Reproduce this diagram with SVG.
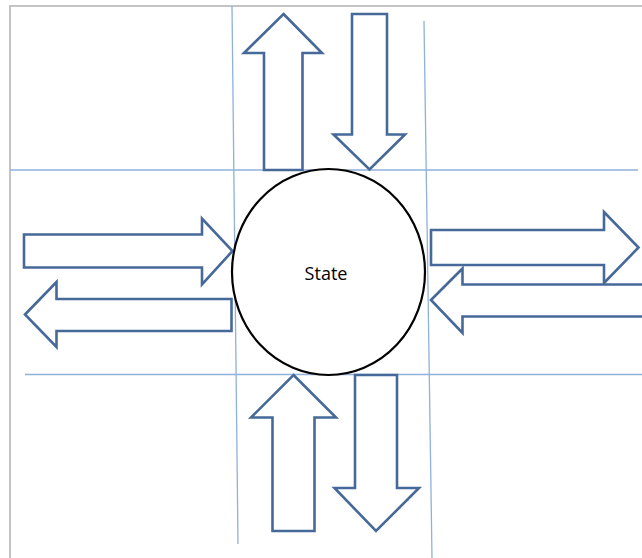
<svg xmlns="http://www.w3.org/2000/svg" width="642" height="558" viewBox="0 0 642 558">
<style>
.grid{stroke:#8fb1db;stroke-width:1.3;fill:none}
.border{stroke:#c4c4c4;stroke-width:2;fill:none}
.arrow{fill:#ffffff;stroke:#46699a;stroke-width:2.6;stroke-linejoin:miter}
.state{fill:#ffffff;stroke:#000000;stroke-width:2.2}
.label{font-family:"Open Sans","Liberation Sans",sans-serif;font-size:18px;fill:#000000}
</style>
<rect width="642" height="558" fill="#ffffff"/>
<g id="frame">
<polyline class="border" points="10,558 10,6 642,6"/>
</g>
<g id="grid">
<line class="grid" x1="232" y1="6" x2="238" y2="544"/>
<line class="grid" x1="424" y1="21" x2="432" y2="558"/>
<line class="grid" x1="10" y1="170" x2="638" y2="170"/>
<line class="grid" x1="25" y1="374.5" x2="642" y2="374.5"/>
</g>
<g id="connectors">
<polygon id="top-up" class="arrow" points="283.5,14 322,53 302.5,53 302.5,170 264,170 264,53 244,53"/>
<polygon id="top-down" class="arrow" points="352,14 387,14 387,134.5 405,134.5 369.5,169.5 333.5,134.5 352,134.5"/>
<polygon id="left-right" class="arrow" points="24,234.5 202,234.5 202,218.5 232.5,251 202,284.5 202,267.5 24,267.5"/>
<polygon id="left-left" class="arrow" points="25,314.5 56.5,282 56.5,299 231.5,299 231.5,331 56.5,331 56.5,347"/>
<polygon id="right-right" class="arrow" points="431,230 604,230 604,212 638.5,247.5 604,283 604,265 431,265"/>
<polygon id="right-left" class="arrow" points="431,300 462.5,268.5 462.5,284.5 645,284.5 645,316.5 462.5,316.5 462.5,333"/>
<polygon id="bottom-up" class="arrow" points="293.5,375 336,417.5 314.5,417.5 314.5,531 272.5,531 272.5,417.5 251,417.5"/>
<polygon id="bottom-down" class="arrow" points="355,375 397,375 397,488 419,488 376,531 334.5,488 355,488"/>
</g>
<g id="state">
<ellipse class="state" cx="328.5" cy="272" rx="96.5" ry="103"/>
<text class="label" x="326" y="280" text-anchor="middle">State</text>
</g>
</svg>
